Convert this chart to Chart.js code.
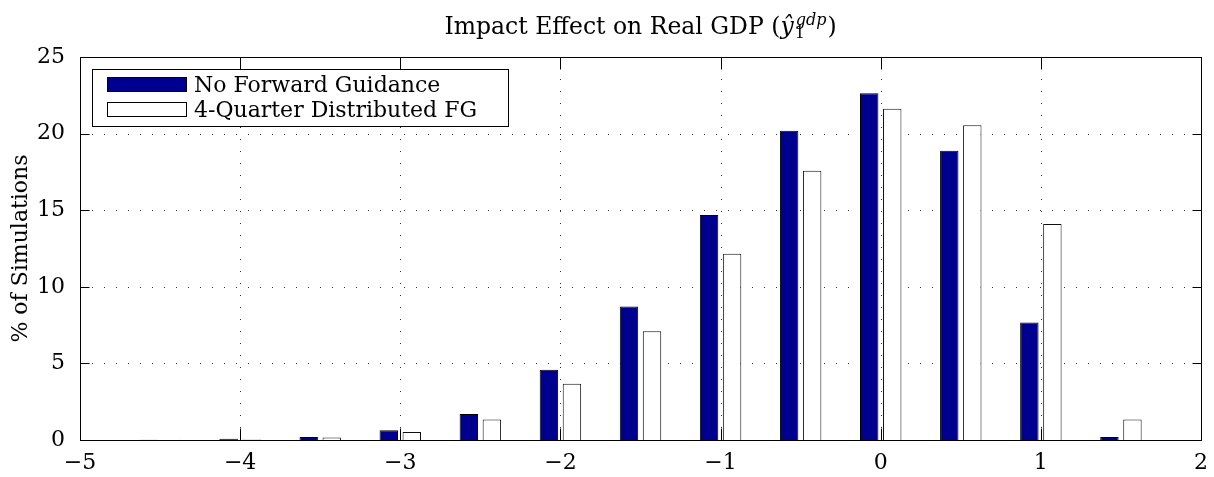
<!DOCTYPE html>
<html><head><meta charset="utf-8">
<script src="https://cdn.jsdelivr.net/npm/chart.js@4.4.1/dist/chart.umd.min.js"></script>
<style>html,body{margin:0;padding:0;background:#fff}#wrap{width:1214px;height:477px;position:relative}</style>
</head><body><div id="wrap"><canvas id="c" width="1214" height="477"></canvas></div>
<script>
// ---- data ----
const binCenters = [-4.5, -4, -3.5, -3, -2.5, -2, -1.5, -1, -0.5, 0, 0.5, 1, 1.5];
const noFG = [0.02, 0.08, 0.2, 0.63, 1.69, 4.58, 8.71, 14.69, 20.18, 22.64, 18.88, 7.67, 0.2];
const fg4 = [0.02, 0.04, 0.17, 0.52, 1.34, 3.67, 7.1, 12.16, 17.57, 21.62, 20.55, 14.1, 1.34];
const xTicks = [-5, -4, -3, -2, -1, 0, 1, 2];
const yTicks = [0, 5, 10, 15, 20, 25];
const seriesLabels = ['No Forward Guidance', '4-Quarter Distributed FG'];
const titleMain = 'Impact Effect on Real GDP (';
const titleSym = 'ŷ';
const titleSub = '1';
const titleSup = 'gdp';
const titleClose = ')';
const yTitle = '% of Simulations';

// ---- styles ----
const FAMILY = '"DejaVu Serif", "Liberation Serif", serif';
const FS = 22;
const TFS = 23.5;
const BLUE = '#00008f';
const fmt = v => (v < 0 ? '\u2212' + Math.abs(v) : String(v));

const toPts = arr => binCenters.map((x, i) => ({ x: x, y: arr[i] }));

const framePlugin = {
  id: 'frame',
  beforeDatasetsDraw(chart) {
    const { ctx, chartArea: a, scales: { x, y } } = chart;
    ctx.save();
    ctx.strokeStyle = '#333';
    ctx.lineWidth = 1;
    ctx.setLineDash([1, 11]);
    xTicks.forEach(v => {
      if (v === xTicks[0] || v === xTicks[xTicks.length - 1]) return;
      const px = Math.round(x.getPixelForValue(v)) + 0.5;
      ctx.beginPath(); ctx.moveTo(px, a.bottom); ctx.lineTo(px, a.top); ctx.stroke();
    });
    yTicks.forEach(v => {
      if (v === yTicks[0] || v === yTicks[yTicks.length - 1]) return;
      const py = Math.round(y.getPixelForValue(v)) + 0.5;
      ctx.beginPath(); ctx.moveTo(a.left, py); ctx.lineTo(a.right, py); ctx.stroke();
    });
    ctx.restore();
  },
  afterDraw(chart) {
    const { ctx, chartArea: a, scales: { x, y } } = chart;
    ctx.save();
    // frame
    ctx.strokeStyle = '#000';
    ctx.lineWidth = 1;
    const L = Math.round(a.left) + 0.5, R = Math.round(a.right) + 0.5;
    const T = Math.round(a.top) + 0.5, B = Math.round(a.bottom) + 0.5;
    ctx.strokeRect(L, T, R - L, B - T);
    // inward ticks
    ctx.beginPath();
    xTicks.forEach(v => {
      const px = Math.round(x.getPixelForValue(v)) + 0.5;
      ctx.moveTo(px, B); ctx.lineTo(px, B - 12);
      ctx.moveTo(px, T); ctx.lineTo(px, T + 12);
    });
    yTicks.forEach(v => {
      const py = Math.round(y.getPixelForValue(v)) + 0.5;
      ctx.moveTo(L, py); ctx.lineTo(L + 9, py);
      ctx.moveTo(R, py); ctx.lineTo(R - 9, py);
    });
    ctx.stroke();

    // legend
    const lx = 92.5, ly = 69.5, lw = 416, lh = 57;
    ctx.fillStyle = '#fff';
    ctx.fillRect(lx, ly, lw, lh);
    ctx.strokeRect(lx, ly, lw, lh);
    const ds = chart.data.datasets;
    const rows = [77.5, 102.5];
    ds.forEach((d, i) => {
      ctx.fillStyle = d.backgroundColor;
      ctx.fillRect(107.5, rows[i], 79, 14);
      ctx.strokeStyle = '#000';
      ctx.strokeRect(107.5, rows[i], 79, 14);
      ctx.fillStyle = '#000';
      ctx.font = FS + 'px ' + FAMILY;
      ctx.textBaseline = 'alphabetic';
      ctx.textAlign = 'left';
      ctx.fillText(d.label, 194, rows[i] + 14.5);
    });

    // title with sub/superscript
    const base = 34;
    const fMain = TFS + 'px ' + FAMILY;
    const fIt = 'italic ' + TFS + 'px ' + FAMILY;
    const fSmall = '16px ' + FAMILY;
    const fSmallIt = 'italic 16px ' + FAMILY;
    ctx.textBaseline = 'alphabetic';
    ctx.font = fMain; const w1 = ctx.measureText(titleMain).width; const w5 = ctx.measureText(titleClose).width;
    ctx.font = fIt; const w2 = ctx.measureText(titleSym).width;
    ctx.font = fSmall; const w3 = ctx.measureText(titleSub).width;
    ctx.font = fSmallIt; const w4 = ctx.measureText(titleSup).width;
    const total = w1 + w2 + 1 + Math.max(w3, w4) + 2 + w5;
    let cx = (a.left + a.right) / 2 - total / 2;
    ctx.fillStyle = '#000';
    ctx.font = fMain; ctx.fillText(titleMain, cx, base); cx += w1;
    ctx.font = fIt; ctx.fillText(titleSym, cx, base); cx += w2 + 1;
    ctx.font = fSmall; ctx.fillText(titleSub, cx, base + 4);
    ctx.font = fSmallIt; ctx.fillText(titleSup, cx + 1, base - 9);
    cx += Math.max(w3, w4) + 2;
    ctx.font = fMain; ctx.fillText(titleClose, cx, base);
    ctx.restore();
  }
};

new Chart(document.getElementById('c'), {
  type: 'bar',
  data: {
    datasets: [
      { label: seriesLabels[0], data: toPts(noFG), backgroundColor: BLUE, borderColor: '#000', borderWidth: 1,
        categoryPercentage: 0.575, barPercentage: 0.8 },
      { label: seriesLabels[1], data: toPts(fg4), backgroundColor: '#ffffff', borderColor: '#111', borderWidth: 1,
        categoryPercentage: 0.575, barPercentage: 0.8 }
    ]
  },
  options: {
    responsive: false,
    animation: false,
    devicePixelRatio: 1,
    layout: { padding: { top: 57, right: 13, left: 0, bottom: 0 } },
    plugins: { legend: { display: false }, title: { display: false }, tooltip: { enabled: false } },
    scales: {
      x: {
        type: 'linear', min: -5, max: 2, offset: false,
        afterBuildTicks: s => { s.ticks = xTicks.map(v => ({ value: v })); },
        ticks: { font: { family: FAMILY, size: FS }, color: '#000', padding: 10, maxRotation: 0, autoSkip: false,
                 callback: v => fmt(v) },
        grid: { display: false, drawTicks: false, offset: false },
        border: { display: false },
        afterFit: s => { s.height = 37; s.paddingLeft = 0; s.paddingRight = 0; }
      },
      y: {
        min: 0, max: 25,
        afterBuildTicks: s => { s.ticks = yTicks.map(v => ({ value: v })); },
        ticks: { font: { family: FAMILY, size: FS }, color: '#000', padding: 15 },
        grid: { display: false, drawTicks: false },
        border: { display: false },
        title: { display: true, text: yTitle, color: '#000', font: { family: FAMILY, size: FS }, padding: { top: 8, bottom: 0 } },
        afterFit: s => { s.width = 80; s.paddingTop = 0; s.paddingBottom = 0; }
      }
    }
  },
  plugins: [framePlugin]
});
</script>
</body></html>
